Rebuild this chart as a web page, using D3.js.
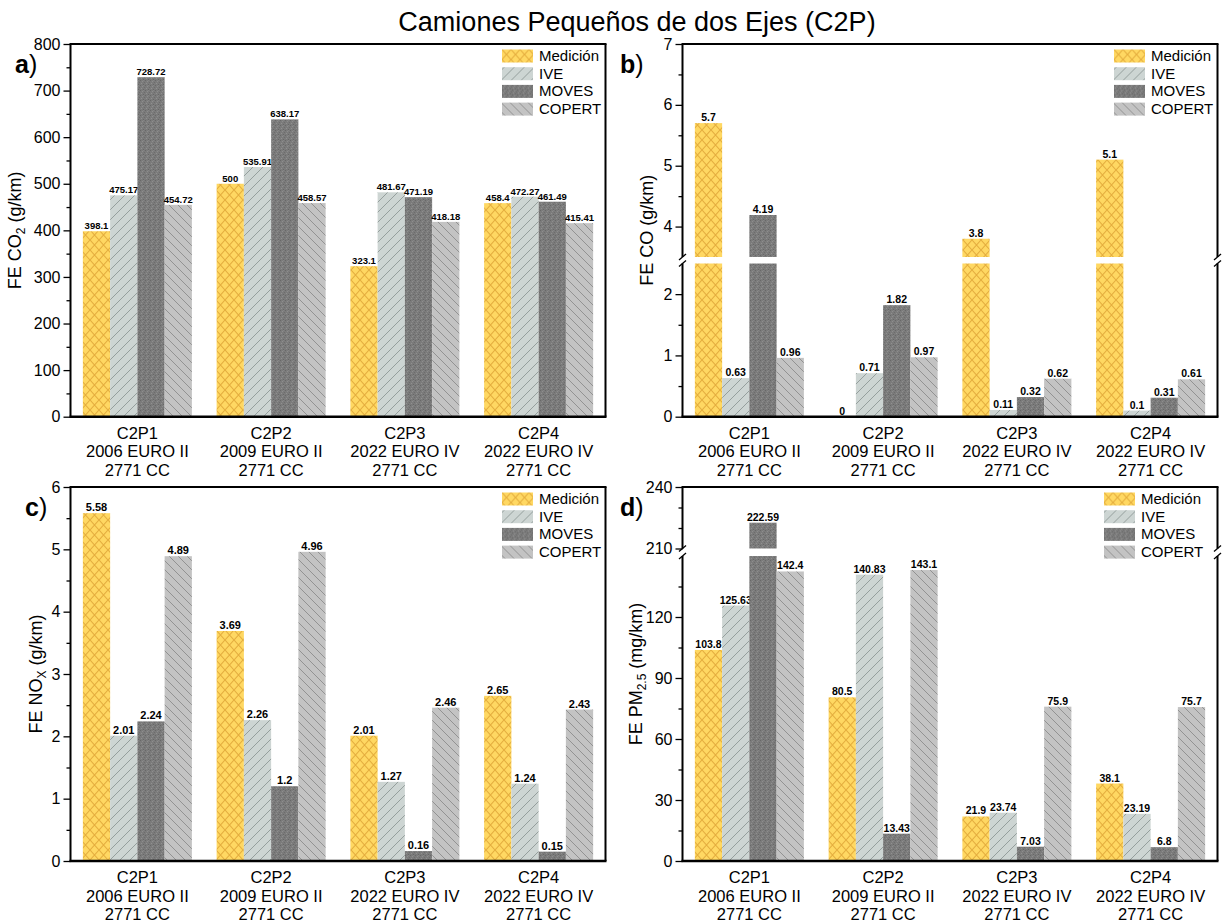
<!DOCTYPE html>
<html>
<head>
<meta charset="utf-8">
<script src="https://cdn.jsdelivr.net/npm/d3@7"></script>
<style>
body { margin:0; background:#fff; }
text { font-family: "Liberation Sans", Arial, sans-serif; fill:#000; }
</style>
</head>
<body>
<svg id="chart"></svg>
<script>
var categories = ["C2P1","C2P2","C2P3","C2P4"];
var categoryYears = ["2006 EURO II","2009 EURO II","2022 EURO IV","2022 EURO IV"];
var categoryEngine = ["2771 CC","2771 CC","2771 CC","2771 CC"];
var seriesNames = ["Medición","IVE","MOVES","COPERT"];

// one row per vehicle, columns follow seriesNames
var co2Values = [
    [398.1, 475.17, 728.72, 454.72],
    [500, 535.91, 638.17, 458.57],
    [323.1, 481.67, 471.19, 418.18],
    [458.4, 472.27, 461.49, 415.41]
];
var coValues = [
    [5.7, 0.63, 4.19, 0.96],
    [0, 0.71, 1.82, 0.97],
    [3.8, 0.11, 0.32, 0.62],
    [5.1, 0.1, 0.31, 0.61]
];
var noxValues = [
    [5.58, 2.01, 2.24, 4.89],
    [3.69, 2.26, 1.2, 4.96],
    [2.01, 1.27, 0.16, 2.46],
    [2.65, 1.24, 0.15, 2.43]
];
var pm25Values = [
    [103.8, 125.63, 222.59, 142.4],
    [80.5, 140.83, 13.43, 143.1],
    [21.9, 23.74, 7.03, 75.9],
    [38.1, 23.19, 6.8, 75.7]
];

var co2Ticks = [0,100,200,300,400,500,600,700,800];
var co2Minor = [50,150,250,350,450,550,650,750];
var coTicksLow = [0,1,2];
var coMinorLow = [0.5,1.5];
var coTicksHigh = [4,5,6,7];
var coMinorHigh = [4.5,5.5,6.5];
var noxTicks = [0,1,2,3,4,5,6];
var noxMinor = [0.5,1.5,2.5,3.5,4.5,5.5];
var pmTicksLow = [0,30,60,90,120];
var pmMinorLow = [15,45,75,105,135];
var pmTicksHigh = [210,240];
var pmMinorHigh = [220,230];

var svg = d3.select("#chart")
    .attr("width",1225)
    .attr("height",924);

var defs = svg.append("defs");

//fill patterns for the four series
var makePattern = function(id, w, h, bg)
{
    var p = defs.append("pattern")
        .attr("id",id)
        .attr("patternUnits","userSpaceOnUse")
        .attr("width",w)
        .attr("height",h);
    p.append("rect")
        .attr("width",w)
        .attr("height",h)
        .attr("fill",bg);
    return p;
}

makePattern("pat0",9,10,"#FFD862")
    .append("path")
    .attr("d","M0,0 L9,10 M9,0 L0,10")
    .attr("stroke","#E5AE3E")
    .attr("stroke-width",1.1)
    .attr("fill","none");

makePattern("pat1",10,10,"#CDD5D3")
    .append("path")
    .attr("d","M0,10 L10,0 M-2,2 L2,-2 M8,12 L12,8")
    .attr("stroke","#8F9896")
    .attr("stroke-width",0.9)
    .attr("fill","none");

var moves = makePattern("pat2",5,5,"#7B7B7B");
[[0,0,"#686868"],[2,1,"#8E8E8E"],[4,2,"#6C6C6C"],[1,3,"#909090"],[3,4,"#676767"],[3,0,"#858585"]]
    .forEach(function(s)
    {
        moves.append("rect")
            .attr("x",s[0]).attr("y",s[1])
            .attr("width",1).attr("height",1)
            .attr("fill",s[2]);
    });

makePattern("pat3",9,9,"#C3C3C3")
    .append("path")
    .attr("d","M0,0 L9,9 M-2,7 L2,11 M7,-2 L11,2")
    .attr("stroke","#8C8C8C")
    .attr("stroke-width",0.9)
    .attr("fill","none");

// title
svg.append("text")
    .text("Camiones Pequeños de dos Ejes (C2P)")
    .attr("x",637)
    .attr("y",31)
    .attr("text-anchor","middle")
    .style("font-size","27px");

var panels = [
    {
        letter:"a", values:co2Values, box:{left:70.5,right:605.5,top:44,bottom:416.7},
        segments:[{domain:[0,800], range:[416.7,44], ticks:co2Ticks, minor:co2Minor}],
        title:["FE CO","2"," (g/km)"], titleX:21, labelSize:9.5, legendRight:103.5,
        letterX:15
    },
    {
        letter:"b", values:coValues, box:{left:682.5,right:1217.5,top:44,bottom:416.7},
        segments:[{domain:[0,2.5], range:[416.7,263.5], ticks:coTicksLow, minor:coMinorLow},
                  {domain:[3.5,7], range:[257,44], ticks:coTicksHigh, minor:coMinorHigh}],
        title:["FE CO",""," (g/km)"], titleX:653, labelSize:10.5, legendRight:103.5,
        letterX:620
    },
    {
        letter:"c", values:noxValues, box:{left:70.5,right:605.5,top:487,bottom:861},
        segments:[{domain:[0,6], range:[861,487], ticks:noxTicks, minor:noxMinor}],
        title:["FE NO","X"," (g/km)"], titleX:42, labelSize:11, legendRight:103.5,
        letterX:25
    },
    {
        letter:"d", values:pm25Values, box:{left:682.5,right:1217.5,top:487,bottom:861},
        segments:[{domain:[0,150], range:[861,556], ticks:pmTicksLow, minor:pmMinorLow},
                  {domain:[210,240], range:[548.5,487], ticks:pmTicksHigh, minor:pmMinorHigh}],
        title:["FE PM","2.5"," (mg/km)"], titleX:642, labelSize:10.5, legendRight:113.5,
        letterX:620
    }
];

var drawPanel = function(p)
{
    var box = p.box;
    var g = svg.append("g").classed("panel",true);

    var xScale = d3.scaleBand()
        .domain(categories)
        .range([box.left, box.right])
        .paddingInner(0.185)
        .paddingOuter(0.0925);
    var xInner = d3.scaleBand()
        .domain(seriesNames)
        .range([0, xScale.bandwidth()]);

    var segScales = p.segments.map(function(s)
    {
        return d3.scaleLinear().domain(s.domain).range(s.range);
    });

    //bars, cut into pieces where the axis is broken
    categories.forEach(function(cat, ci)
    {
        seriesNames.forEach(function(ser, si)
        {
            var v = p.values[ci][si];
            var x = xScale(cat) + xInner(ser);
            var topY = null;
            p.segments.forEach(function(s, k)
            {
                if (v <= s.domain[0] && k > 0) { return; }
                var sc = segScales[k];
                var hi = Math.min(v, s.domain[1]);
                g.append("rect")
                    .attr("x",x)
                    .attr("y",sc(hi))
                    .attr("width",xInner.bandwidth())
                    .attr("height",sc(s.domain[0]) - sc(hi))
                    .attr("fill","url(#pat"+si+")");
                if (v <= s.domain[1]) { topY = sc(v); }
            });
            g.append("text")
                .text(v)
                .attr("x",x + xInner.bandwidth()/2)
                .attr("y",topY - 2)
                .attr("text-anchor","middle")
                .style("font-weight","bold")
                .style("font-size",p.labelSize+"px");
        });
    });

    //y axes per segment
    p.segments.forEach(function(s, k)
    {
        var major = d3.axisLeft(segScales[k])
            .tickValues(s.ticks)
            .tickFormat(d3.format("d"))
            .tickSize(7)
            .tickPadding(3)
            .tickSizeOuter(0);
        var minor = d3.axisLeft(segScales[k])
            .tickValues(s.minor)
            .tickSize(4)
            .tickFormat("")
            .tickSizeOuter(0);
        var ga = g.append("g")
            .attr("transform","translate("+box.left+",0)")
            .call(major);
        ga.attr("font-family",null).attr("font-size",null);
        ga.selectAll("text")
            .style("font-size","16px");
        ga.selectAll("line").attr("stroke-width",1.3);
        ga.select(".domain").remove();
        var gm = g.append("g")
            .attr("transform","translate("+box.left+",0)")
            .call(minor);
        gm.selectAll("line").attr("stroke-width",1.3);
        gm.select(".domain").remove();

        //frame sides for this segment
        [box.left, box.right].forEach(function(xx)
        {
            g.append("line")
                .attr("x1",xx).attr("x2",xx)
                .attr("y1",s.range[0]).attr("y2",s.range[1])
                .attr("stroke","#000")
                .attr("stroke-width",2);
        });
    });

    //break marks
    for (var k = 1; k < p.segments.length; k++)
    {
        var yLow = p.segments[k-1].range[1];
        var yHigh = p.segments[k].range[0];
        [box.left, box.right].forEach(function(xx)
        {
            [yLow, yHigh].forEach(function(yy)
            {
                g.append("line")
                    .attr("x1",xx-3.5).attr("y1",yy+3)
                    .attr("x2",xx+3.5).attr("y2",yy-3)
                    .attr("stroke","#000")
                    .attr("stroke-width",1.3);
            });
        });
    }

    g.append("line")
        .attr("x1",box.left-1).attr("x2",box.right+1)
        .attr("y1",box.top).attr("y2",box.top)
        .attr("stroke","#000").attr("stroke-width",2);
    g.append("line")
        .attr("x1",box.left-1).attr("x2",box.right+1)
        .attr("y1",box.bottom).attr("y2",box.bottom)
        .attr("stroke","#000").attr("stroke-width",2.6);

    //category labels
    var xl = g.append("g").classed("xlabels",true);
    categories.forEach(function(cat, ci)
    {
        var t = xl.append("text")
            .attr("text-anchor","middle")
            .attr("x",xScale(cat) + xScale.bandwidth()/2)
            .attr("y",box.bottom + 22)
            .style("font-size","16.5px");
        [cat, categoryYears[ci], categoryEngine[ci]].forEach(function(line, li)
        {
            t.append("tspan")
                .attr("x",xScale(cat) + xScale.bandwidth()/2)
                .attr("dy", li == 0 ? 0 : 18.5)
                .text(line);
        });
    });

    //y title
    var midY = (box.top + box.bottom)/2;
    var yt = g.append("text")
        .attr("transform","translate("+p.titleX+","+midY+") rotate(-90)")
        .attr("text-anchor","middle")
        .style("font-size","18px");
    yt.append("tspan").text(p.title[0]);
    if (p.title[1] != "")
    {
        yt.append("tspan").text(p.title[1])
            .attr("dy",4)
            .style("font-size","12px");
        yt.append("tspan").text(p.title[2]).attr("dy",-4);
    }
    else
    {
        yt.append("tspan").text(p.title[2]);
    }

    //panel letter
    var lt = g.append("text")
        .attr("x",p.letterX)
        .attr("y",box.top + 29)
        .style("font-size","25px");
    lt.append("tspan").text(p.letter).style("font-weight","bold");
    lt.append("tspan").text(")");

    //legend
    var lg = g.append("g")
        .attr("transform","translate("+(box.right - p.legendRight)+","+(box.top + 5.5)+")");
    seriesNames.forEach(function(ser, si)
    {
        lg.append("rect")
            .attr("x",0)
            .attr("y",si*17.7)
            .attr("width",31)
            .attr("height",13)
            .attr("fill","url(#pat"+si+")");
        lg.append("text")
            .text(ser)
            .attr("x",37)
            .attr("y",si*17.7 + 11.5)
            .style("font-size","15px");
    });
}

panels.forEach(drawPanel);
</script>
</body>
</html>
